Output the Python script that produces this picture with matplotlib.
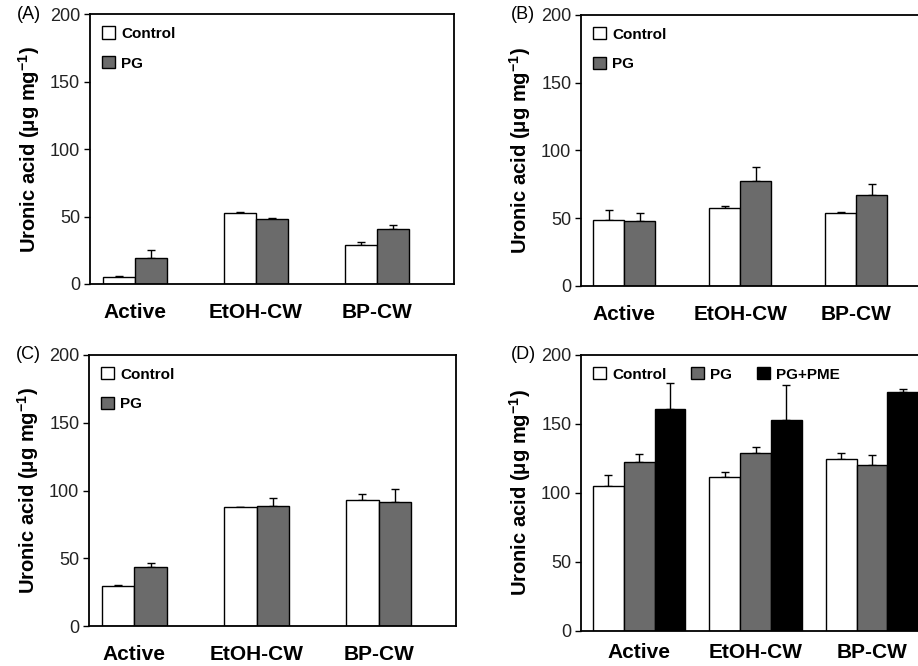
import numpy as np
import matplotlib
matplotlib.use("Agg")
from matplotlib import pyplot as plt

plt.rcParams['font.family'] = ['Liberation Sans', 'DejaVu Sans']
plt.rcParams['mathtext.fontset'] = 'custom'
plt.rcParams['mathtext.rm'] = 'Liberation Sans'
plt.rcParams['mathtext.bf'] = 'Liberation Sans:bold'

categories = ["Active", "EtOH-CW", "BP-CW"]

# panel A
a_control = [5.2, 53, 29]
a_control_err = [0.8, 0.3, 2]
a_pg = [19.3, 48, 41]
a_pg_err = [5.7, 1, 3]

# panel B
b_control = [49, 57.3, 53.7]
b_control_err = [7, 1.7, 0.8]
b_pg = [47.7, 77.8, 67.2]
b_pg_err = [6.3, 10, 7.8]

# panel C
c_control = [29.7, 87.5, 93]
c_control_err = [0.8, 0.5, 4.3]
c_pg = [43.7, 88.7, 91.6]
c_pg_err = [2.5, 5.6, 9.4]

# panel D
d_control = [104.6, 111.4, 124.6]
d_control_err = [8.4, 3.8, 4.1]
d_pg = [122.2, 129, 120]
d_pg_err = [6.3, 4.1, 7.8]
d_pme = [161.1, 153.1, 173.2]
d_pme_err = [18.6, 25.4, 2.2]

PG_GRAY = "#6b6b6b"
W = 0.265


def draw_panel(ax, series, label, xlim, xpad=14):
    x = np.arange(len(categories))
    n = len(series)
    offsets = (np.arange(n) - (n - 1) / 2) * W
    for (vals, errs, color, name), off in zip(series, offsets):
        ax.bar(x + off, vals, W, color=color, edgecolor="black", linewidth=1.0,
               label=name, zorder=2)
        ax.errorbar(x + off, vals, yerr=[np.zeros(len(errs)), errs], fmt="none",
                    ecolor="black", elinewidth=1.0, capsize=3, capthick=1.0, zorder=1)
    ax.set_xlim(*xlim)
    ax.set_ylim(0, 200)
    ax.set_yticks([0, 50, 100, 150, 200])
    ax.set_xticks(x)
    ax.set_xticklabels(categories, fontsize=15, fontweight="bold")
    ax.tick_params(axis="x", length=0, pad=xpad)
    ax.tick_params(axis="y", length=4, width=1, labelsize=13, pad=3, labelcolor="#222222")
    for s in ax.spines.values():
        s.set_linewidth(1.3)
    ax.set_ylabel("Uronic acid (\u03bcg mg$^{\\mathbf{-1}}$)", fontsize=14.5,
                  fontweight="bold", labelpad=6)
    ax.text(-0.2, 1.0, label, transform=ax.transAxes, fontsize=13,
            ha="left", va="center")


fig = plt.figure(figsize=(9.18, 6.66), dpi=100)

ax_a = fig.add_axes([0.098, 0.5736, 0.3965, 0.405])
draw_panel(ax_a, [(a_control, a_control_err, "white", "Control"),
                  (a_pg, a_pg_err, PG_GRAY, "PG")], "(A)", (-0.372, 2.636))

ax_b = fig.add_axes([0.633, 0.5706, 0.380, 0.407])
draw_panel(ax_b, [(b_control, b_control_err, "white", "Control"),
                  (b_pg, b_pg_err, PG_GRAY, "PG")], "(B)", (-0.371, 2.636))

ax_c = fig.add_axes([0.097, 0.060, 0.400, 0.407])
draw_panel(ax_c, [(c_control, c_control_err, "white", "Control"),
                  (c_pg, c_pg_err, PG_GRAY, "PG")], "(C)", (-0.372, 2.636))

ax_d = fig.add_axes([0.633, 0.053, 0.380, 0.414])
draw_panel(ax_d, [(d_control, d_control_err, "white", "Control"),
                  (d_pg, d_pg_err, PG_GRAY, "PG"),
                  (d_pme, d_pme_err, "black", "PG+PME")], "(D)", (-0.498, 2.498),
           xpad=9)

leg_kw = dict(frameon=False, handlelength=0.85, handleheight=0.85,
              handletextpad=0.4, prop={"weight": "bold", "size": 11},
              borderaxespad=0.4)
for ax in (ax_a, ax_b, ax_c):
    ax.legend(loc="upper left", labelspacing=1.0, **leg_kw)
ax_d.legend(loc="upper left", ncol=3, columnspacing=1.6, **leg_kw)

fig.savefig("out.png", dpi=100)
